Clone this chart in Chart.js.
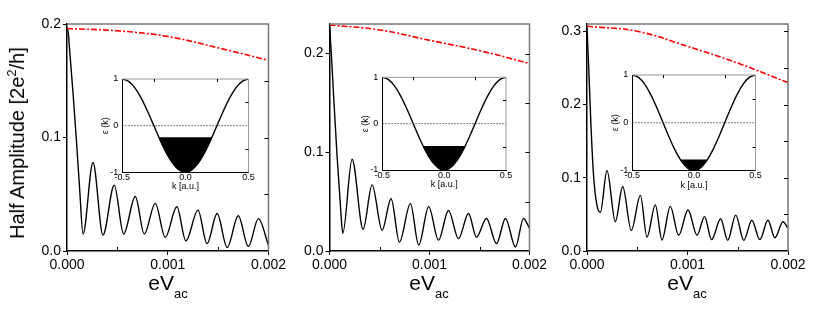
<!DOCTYPE html>
<html>
<head>
<meta charset="utf-8">
<script src="https://cdn.jsdelivr.net/npm/chart.js@4"></script>
<style>
  body { margin: 0; background: #fff; }
  #wrap { position: relative; width: 817px; height: 309px; font-family: "Liberation Sans", Arial, sans-serif; color: #000; }
  #wrap canvas { position: absolute; left: 0; top: 0; }
  .ytitle { position: absolute; left: 17px; top: 143px; transform: translate(-50%, -50%) rotate(-90deg);
            font-size: 20px; line-height: 1; white-space: nowrap; }
  .ytitle .sup { font-size: 13px; position: relative; top: -8px; }
  .xt { position: absolute; top: 272px; transform: translateX(-50%); font-size: 21px; line-height: 1; white-space: nowrap; }
  .xt .sub { font-size: 13px; position: relative; top: 8px; }
</style>
</head>
<body>
<div id="wrap">
  <canvas id="m1" width="817" height="309"></canvas>
  <canvas id="m2" width="817" height="309"></canvas>
  <canvas id="m3" width="817" height="309"></canvas>
  <canvas id="i1" width="817" height="309"></canvas>
  <canvas id="i2" width="817" height="309"></canvas>
  <canvas id="i3" width="817" height="309"></canvas>
  <div class="ytitle">Half Amplitude [2e<span class="sup">2</span>/h]</div>
  <div class="xt" style="left:168px">eV<span class="sub">ac</span></div>
  <div class="xt" style="left:429px">eV<span class="sub">ac</span></div>
  <div class="xt" style="left:687px">eV<span class="sub">ac</span></div>
</div>
<script>
// datos
const amp1X = [0, 0.000013, 0.000026, 0.00006, 0.000093, 0.000126, 0.000159, 0.000258, 0.000357, 0.000469, 0.000562, 0.000678, 0.000767, 0.000876, 0.000975, 0.00109, 0.00118, 0.0013, 0.00139, 0.00149, 0.00159, 0.0017, 0.0018, 0.0019, 0.002];
const amp1Y = [0.197, 0.192, 0.177, 0.139, 0.098, 0.054, 0.015, 0.078, 0.014, 0.058, 0.015, 0.048, 0.015, 0.042, 0.012, 0.039, 0.009, 0.036, 0.0065, 0.033, 0.003, 0.031, 0.004, 0.0285, 0.005];

const amp2X = [0, 0.0000166, 0.0000433, 0.0000765, 0.00011, 0.000133, 0.000226, 0.000336, 0.000426, 0.000526, 0.000616, 0.000699, 0.000809, 0.000892, 0.000992, 0.00109, 0.00119, 0.00129, 0.00139, 0.00147, 0.00157, 0.00167, 0.00176, 0.00186, 0.00194, 0.002];
const amp2Y = [0.229, 0.203, 0.153, 0.095, 0.045, 0.018, 0.093, 0.022, 0.067, 0.021, 0.053, 0.009, 0.048, 0.006, 0.045, 0.011, 0.041, 0.0125, 0.038, 0.014, 0.033, 0.0075, 0.033, 0.004, 0.033, 0.023];

const amp3X = [0, 0.0000166, 0.0000398, 0.0000663, 0.0000995, 0.000133, 0.000199, 0.000282, 0.000355, 0.000441, 0.000531, 0.000597, 0.00068, 0.000746, 0.000829, 0.000912, 0.001005, 0.001095, 0.00117, 0.00124, 0.00133, 0.0014, 0.00148, 0.00156, 0.00164, 0.00172, 0.0018, 0.00187, 0.00195, 0.002];
const amp3Y = [0.305, 0.252, 0.170, 0.101, 0.062, 0.053, 0.110, 0.040, 0.088, 0.028, 0.076, 0.019, 0.063, 0.015, 0.061, 0.0215, 0.056, 0.0215, 0.047, 0.0155, 0.044, 0.0145, 0.049, 0.0145, 0.042, 0.0155, 0.042, 0.018, 0.040, 0.031];

const redX = [0, 0.0005, 0.001, 0.0015, 0.002];
const red1 = [0.196, 0.194, 0.189, 0.179, 0.168];
const red2 = [0.229, 0.224, 0.2135, 0.203, 0.19];
const red3 = [0.307, 0.300, 0.2795, 0.2566, 0.230];

// banda del inset
const bandK = [-0.5, -0.45, -0.4, -0.35, -0.3, -0.25, -0.2, -0.15, -0.1, -0.05, 0, 0.05, 0.1, 0.15, 0.2, 0.25, 0.3, 0.35, 0.4, 0.45, 0.5];
const bandE = [1, 0.95, 0.81, 0.59, 0.31, 0, -0.31, -0.59, -0.81, -0.95, -1, -0.95, -0.81, -0.59, -0.31, 0, 0.31, 0.59, 0.81, 0.95, 1];
const zeroK = [-0.5, 0.5];
const zeroE = [0, 0];

const fill1K = [-0.21, -0.2, -0.15, -0.1, -0.05, 0, 0.05, 0.1, 0.15, 0.2, 0.21];
const fill1E = [-0.25, -0.31, -0.59, -0.81, -0.95, -1, -0.95, -0.81, -0.59, -0.31, -0.25];
const fill2K = [-0.17, -0.15, -0.1, -0.05, 0, 0.05, 0.1, 0.15, 0.17];
const fill2E = [-0.48, -0.59, -0.81, -0.95, -1, -0.95, -0.81, -0.59, -0.48];
const fill3K = [-0.11, -0.1, -0.05, 0, 0.05, 0.1, 0.11];
const fill3E = [-0.77, -0.81, -0.95, -1, -0.95, -0.81, -0.77];

const W = 817, H = 309;
const FONT = '"Liberation Sans", Arial, sans-serif';
Chart.defaults.font.family = FONT;
Chart.defaults.color = '#000';

const toPts = (xs, ys) => xs.map((x, i) => ({ x: x, y: ys[i] }));

// marco superior/derecho y marcas hacia dentro
const frame = {
  id: 'frame',
  afterDraw(chart, args, opts) {
    const { ctx, chartArea: a, scales } = chart;
    ctx.save();
    ctx.strokeStyle = opts.color;
    ctx.lineWidth = opts.width;
    ctx.beginPath();
    ctx.moveTo(a.left, a.top);
    ctx.lineTo(a.right, a.top);
    ctx.lineTo(a.right, a.bottom);
    ctx.stroke();
    ctx.strokeStyle = '#000';
    ctx.lineWidth = 1;
    ctx.beginPath();
    (opts.rightTicks || []).forEach(v => {
      const y = Math.round(scales.y.getPixelForValue(v)) + 0.5;
      ctx.moveTo(a.right, y); ctx.lineTo(a.right - opts.len, y);
    });
    (opts.bottomTicks || []).forEach(v => {
      const x = Math.round(scales.x.getPixelForValue(v)) + 0.5;
      ctx.moveTo(x, a.bottom); ctx.lineTo(x, a.bottom - opts.len);
    });
    (opts.topTicks || []).forEach(v => {
      const x = Math.round(scales.x.getPixelForValue(v)) + 0.5;
      ctx.moveTo(x, a.top); ctx.lineTo(x, a.top + opts.len);
    });
    ctx.stroke();
    ctx.restore();
  }
};

function mainChart(id, ampX, ampY, red, yMax, rightTicks, box) {
  const yW = 40, xH = 40;
  new Chart(document.getElementById(id), {
    type: 'line',
    data: {
      datasets: [
        { data: toPts(redX, red), borderColor: '#ff0000', borderWidth: 1.6, borderDash: [6, 2, 2, 2],
          pointRadius: 0, tension: 0.4 },
        { data: toPts(ampX, ampY), borderColor: '#000', borderWidth: 1.4,
          pointRadius: 0, cubicInterpolationMode: 'monotone' }
      ]
    },
    options: {
      responsive: false,
      animation: false,
      events: [],
      layout: { padding: { left: box.l - yW, right: W - box.r, top: box.t, bottom: H - box.b - xH } },
      plugins: {
        legend: { display: false },
        tooltip: { enabled: false },
        frame: { color: '#777', width: 1.5, len: 4, rightTicks: rightTicks, bottomTicks: [0.0005, 0.0015] }
      },
      scales: {
        x: {
          type: 'linear', min: 0, max: 0.002,
          afterFit: s => { s.height = xH; },
          border: { color: '#000', width: 1.5 },
          grid: { drawOnChartArea: false, tickLength: 4, color: '#000' },
          ticks: { stepSize: 0.001, autoSkip: false, maxRotation: 0, padding: 2,
                   font: { size: 14 }, callback: v => v.toFixed(3) }
        },
        y: {
          min: 0, max: yMax,
          afterFit: s => { s.width = yW; },
          border: { color: '#000', width: 1.5 },
          grid: { drawOnChartArea: false, tickLength: 4, color: '#000' },
          ticks: { stepSize: 0.1, includeBounds: false, padding: 2,
                   font: { size: 14 }, callback: v => v.toFixed(1) }
        }
      }
    },
    plugins: [frame]
  });
}

function insetChart(id, fillK, fillE, ef, box) {
  const yW = 22, xH = 20;
  new Chart(document.getElementById(id), {
    type: 'line',
    data: {
      datasets: [
        { data: toPts(fillK, fillE), borderColor: '#000', borderWidth: 1, backgroundColor: '#000',
          fill: { value: ef }, pointRadius: 0, cubicInterpolationMode: 'monotone' },
        { data: toPts(zeroK, zeroE), borderColor: '#555', borderWidth: 1, borderDash: [1.5, 1.5], pointRadius: 0 },
        { data: toPts(bandK, bandE), borderColor: '#000', borderWidth: 1.4,
          pointRadius: 0, cubicInterpolationMode: 'monotone' }
      ]
    },
    options: {
      responsive: false,
      animation: false,
      events: [],
      layout: { padding: { left: box.l - yW, right: W - box.r, top: box.t, bottom: H - box.b - xH } },
      plugins: {
        legend: { display: false },
        tooltip: { enabled: false },
        frame: { color: '#999', width: 1, len: 3, rightTicks: [-0.5, 0.5], topTicks: [-0.25, 0.25] }
      },
      scales: {
        x: {
          type: 'linear', min: -0.5, max: 0.5,
          afterFit: s => { s.height = xH; },
          border: { color: '#000', width: 1 },
          grid: { display: false, drawTicks: false, tickLength: 0 },
          title: { display: true, text: 'k [a.u.]', font: { size: 9 }, padding: 0 },
          ticks: { stepSize: 0.5, autoSkip: false, maxRotation: 0, padding: 0,
                   font: { size: 9 }, callback: v => v.toFixed(1) }
        },
        y: {
          min: -1, max: 1,
          afterFit: s => { s.width = yW; },
          border: { color: '#000', width: 1 },
          grid: { display: false, drawTicks: false, tickLength: 0 },
          title: { display: true, text: 'ε (k)', font: { size: 9 }, padding: 0 },
          ticks: { stepSize: 1, padding: 4, font: { size: 9 } }
        }
      }
    },
    plugins: [frame]
  });
}

mainChart('m1', amp1X, amp1Y, red1, 0.2, [0.05, 0.1, 0.15], { l: 67, r: 268.5, t: 24, b: 251 });
mainChart('m2', amp2X, amp2Y, red2, 0.23, [0.05, 0.1, 0.15, 0.2], { l: 329.5, r: 529.5, t: 24, b: 251 });
mainChart('m3', amp3X, amp3Y, red3, 0.31, [0.05, 0.1, 0.15, 0.2, 0.25, 0.3], { l: 587, r: 788, t: 24, b: 251 });

insetChart('i1', fill1K, fill1E, -0.25, { l: 122.3, r: 248.5, t: 79, b: 172.3 });
insetChart('i2', fill2K, fill2E, -0.48, { l: 382.3, r: 506, t: 77.3, b: 170 });
insetChart('i3', fill3K, fill3E, -0.77, { l: 632.3, r: 755.5, t: 75, b: 170.5 });
</script>
</body>
</html>
